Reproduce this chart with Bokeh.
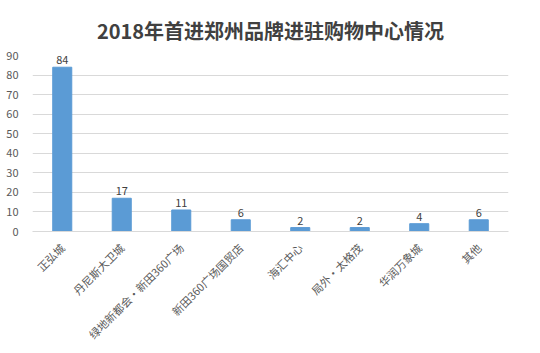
import math
from bokeh.plotting import figure
from bokeh.models import ColumnDataSource, FactorRange, Range1d, FixedTicker, LabelSet
from bokeh.core.properties import value
from bokeh.embed import file_html
from bokeh.resources import INLINE

categories = ["正弘城", "丹尼斯大卫城", "绿地新都会·新田360广场", "新田360广场国贸店",
              "海汇中心", "局外·太格茂", "华润万象城", "其他"]
values = [84, 17, 11, 6, 2, 2, 4, 6]
y_ticks = [0, 10, 20, 30, 40, 50, 60, 70, 80, 90]
title_text = "2018年首进郑州品牌进驻购物中心情况"

FONT = "Noto Sans CJK SC"

src = ColumnDataSource(data=dict(cat=categories, val=values,
                                 lab=[str(v) for v in values]))

p = figure(width=540, height=353, output_backend="svg", toolbar_location=None,
           x_range=FactorRange(*categories), y_range=Range1d(0, 90),
           min_border_left=32, min_border_right=32, min_border_top=55,
           min_border_bottom=122)

p.title.text = title_text
p.title.align = "center"
p.title.vertical_align = "middle"
p.title.text_font = FONT
p.title.text_font_size = "20px"
p.title.text_font_style = "bold"
p.title.text_color = "#404040"
p.title.standoff = 20

p.vbar(x="cat", top="val", width=0.32, source=src, color="#5b9bd5")

labels = LabelSet(x="cat", y="val", text="lab", source=src, y_offset=3,
                  text_align="center", text_baseline="bottom",
                  text_font=value(FONT), text_font_size=value("11px"), text_color="#404040")
p.add_layout(labels)

p.outline_line_color = None
p.background_fill_color = "white"
p.border_fill_color = "white"

p.xgrid.grid_line_color = None
p.ygrid.grid_line_color = "#d9d9d9"
p.ygrid.ticker = FixedTicker(ticks=y_ticks)

p.yaxis.ticker = FixedTicker(ticks=y_ticks)
p.yaxis.axis_line_color = None
p.yaxis.major_tick_line_color = None
p.yaxis.minor_tick_line_color = None
p.yaxis.major_label_text_font = FONT
p.yaxis.major_label_text_font_size = "11px"
p.yaxis.major_label_text_color = "#595959"
p.yaxis.major_label_standoff = 8

p.xaxis.axis_line_color = "#d9d9d9"
p.xaxis.major_tick_line_color = None
p.xaxis.minor_tick_line_color = None
p.xaxis.major_label_orientation = math.pi / 4
p.xaxis.major_label_text_font = FONT
p.xaxis.major_label_text_font_size = "11px"
p.xaxis.major_label_text_color = "#595959"
p.xaxis.major_label_standoff = 8

open("out.html", "w").write(file_html(p, INLINE))
